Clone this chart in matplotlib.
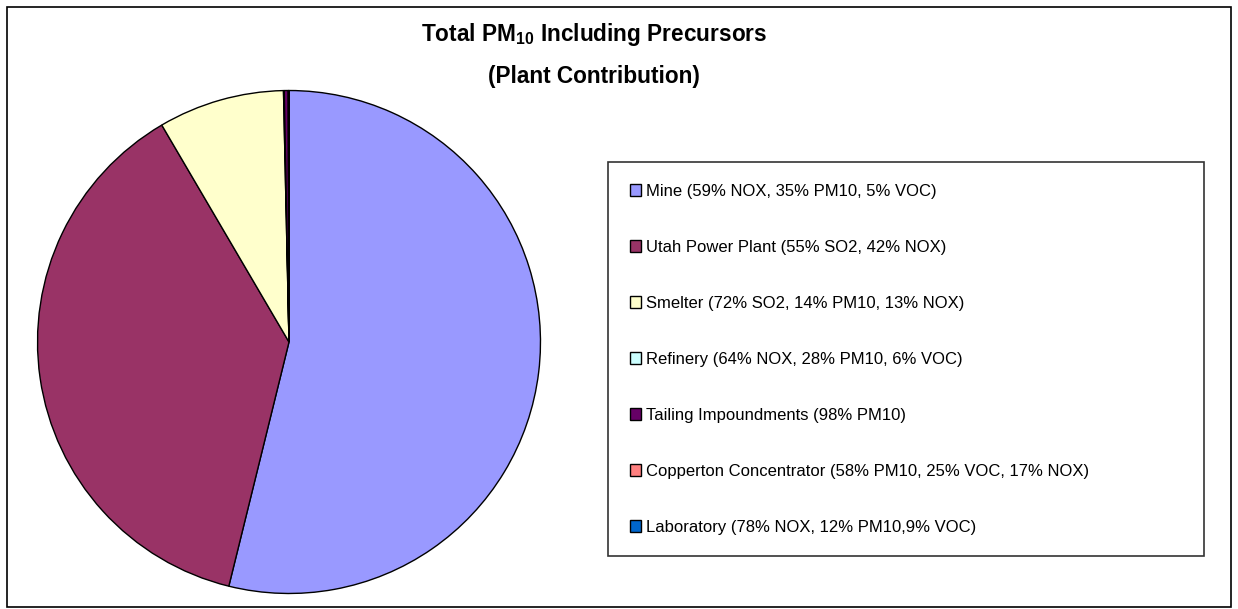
import matplotlib

matplotlib.use("Agg")
import matplotlib.pyplot as plt
from matplotlib.patches import Rectangle

plt.rcParams["font.family"] = ["Liberation Sans", "DejaVu Sans"]
plt.rcParams["mathtext.fontset"] = "custom"
plt.rcParams["mathtext.rm"] = "Liberation Sans"
plt.rcParams["mathtext.bf"] = "Liberation Sans:bold"

# Datos (porcentaje aproximado de cada fuente)
fuentes = [
    "Mine (59% NOX, 35% PM10, 5% VOC)",
    "Utah Power Plant (55% SO2, 42% NOX)",
    "Smelter (72% SO2, 14% PM10, 13% NOX)",
    "Refinery (64% NOX, 28% PM10, 6% VOC)",
    "Tailing Impoundments (98% PM10)",
    "Copperton Concentrator (58% PM10, 25% VOC, 17% NOX)",
    "Laboratory (78% NOX, 12% PM10,9% VOC)",
]
aporte = [53.9, 37.75, 8.1, 0.05, 0.25, 0.03, 0.02]
colores = ["#9999FF", "#993366", "#FFFFCC", "#CCFFFF", "#660066", "#FF8080", "#0066CC"]

ANCHO, ALTO = 1238, 609
fig = plt.figure(figsize=(ANCHO / 100, ALTO / 100), dpi=100)

# marco exterior
fig.patches.append(
    Rectangle((7 / ANCHO, 2 / ALTO), 1224 / ANCHO, 600 / ALTO,
              transform=fig.transFigure, fill=False, edgecolor="black", linewidth=1.2)
)

# --- Pastel ---
eje = fig.add_axes([35 / ANCHO, 13 / ALTO, 508 / ANCHO, 508 / ALTO])
cunas, _ = eje.pie(
    aporte, colors=colores, startangle=90, counterclock=False,
    wedgeprops={"edgecolor": "black", "linewidth": 1.0},
)
eje.set_xlim(-1.01, 1.01)
eje.set_ylim(-1.01, 1.01)

fig.text(594 / ANCHO, 1 - 35 / ALTO, r"Total PM$_\mathbf{10}$ Including Precursors",
         ha="center", va="center", fontsize=16.3, fontweight="bold")
fig.text(594 / ANCHO, 1 - 76 / ALTO, "(Plant Contribution)",
         ha="center", va="center", fontsize=16.3, fontweight="bold")

# leyenda con caja fija (x=608..1204, y=162..556 px)
leyenda = fig.legend(
    cunas, fuentes, loc="upper left", mode="expand",
    bbox_to_anchor=(608 / ANCHO, 53 / ALTO, 596 / ANCHO, 394 / ALTO),
    bbox_transform=fig.transFigure,
    fontsize=12, frameon=True, fancybox=False, edgecolor="black",
    handlelength=0.7, handleheight=0.7, handletextpad=0.3,
    labelspacing=2.46, borderpad=1.3, borderaxespad=0,
)
leyenda.get_frame().set_linewidth(1.2)
for parche in leyenda.get_patches():
    parche.set_edgecolor("black")
    parche.set_linewidth(1.0)

fig.savefig("out.png", dpi=100)
